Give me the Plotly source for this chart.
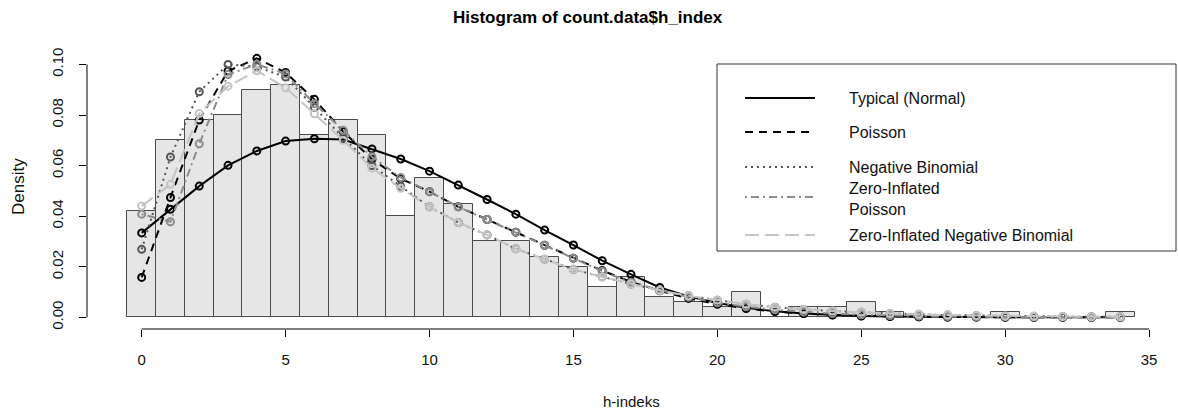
import plotly.graph_objects as go

# ---------------- data ----------------
h_index = list(range(0, 35))
hist_density = [0.042, 0.070, 0.078, 0.080, 0.090, 0.092, 0.072, 0.078, 0.072, 0.040,
                0.055, 0.045, 0.030, 0.030, 0.024, 0.020, 0.012, 0.016, 0.008, 0.006,
                0.004, 0.010, 0.000, 0.004, 0.004, 0.006, 0.002, 0.000, 0.000, 0.000,
                0.002, 0.000, 0.000, 0.000, 0.002]

fit_x = list(range(0, 35))
normal_fit = [0.0334, 0.0427, 0.0519, 0.0601, 0.0658, 0.0697, 0.0706, 0.0703, 0.0666, 0.0626,
              0.0578, 0.0523, 0.0466, 0.0408, 0.0345, 0.0286, 0.0224, 0.0170, 0.0118, 0.0083,
              0.0057, 0.0038, 0.0024, 0.0015, 0.0009, 0.0005, 0.0003, 0.0002, 0.0001, 0.0001,
              0.0000, 0.0000, 0.0000, 0.0000, 0.0000]
poisson_fit = [0.0158, 0.0474, 0.0780, 0.0974, 0.1024, 0.0968, 0.0862, 0.0735, 0.0625, 0.0548,
               0.0497, 0.0437, 0.0387, 0.0337, 0.0285, 0.0234, 0.0185, 0.0140, 0.0105, 0.0075,
               0.0052, 0.0035, 0.0023, 0.0015, 0.0010, 0.0006, 0.0004, 0.0002, 0.0001, 0.0001,
               0.0001, 0.0000, 0.0000, 0.0000, 0.0000]
negbin_fit = [0.0269, 0.0634, 0.0892, 0.1000, 0.0991, 0.0950, 0.0830, 0.0710, 0.0600, 0.0518,
              0.0437, 0.0375, 0.0326, 0.0271, 0.0230, 0.0190, 0.0160, 0.0132, 0.0106, 0.0085,
              0.0068, 0.0052, 0.0040, 0.0031, 0.0025, 0.0020, 0.0015, 0.0012, 0.0009, 0.0007,
              0.0005, 0.0004, 0.0003, 0.0002, 0.0002]
zip_fit = [0.0408, 0.0378, 0.0686, 0.0960, 0.1001, 0.0962, 0.0845, 0.0740, 0.0635, 0.0553,
           0.0497, 0.0437, 0.0387, 0.0337, 0.0285, 0.0234, 0.0182, 0.0138, 0.0108, 0.0080,
           0.0058, 0.0042, 0.0030, 0.0021, 0.0015, 0.0010, 0.0007, 0.0005, 0.0003, 0.0002,
           0.0002, 0.0001, 0.0001, 0.0001, 0.0001]
zinb_fit = [0.0440, 0.0526, 0.0806, 0.0914, 0.0975, 0.0908, 0.0805, 0.0700, 0.0590, 0.0510,
            0.0437, 0.0375, 0.0326, 0.0271, 0.0230, 0.0190, 0.0160, 0.0132, 0.0106, 0.0085,
            0.0068, 0.0052, 0.0040, 0.0031, 0.0025, 0.0020, 0.0015, 0.0012, 0.0009, 0.0007,
            0.0005, 0.0004, 0.0003, 0.0002, 0.0002]

x_ticks = [0, 5, 10, 15, 20, 25, 30, 35]
y_ticks = [0.00, 0.02, 0.04, 0.06, 0.08, 0.10]
y_tick_labels = ["0.00", "0.02", "0.04", "0.06", "0.08", "0.10"]

legend_labels = ["Typical (Normal)", "Poisson", "Negative Binomial",
                 "Zero-Inflated<br>Poisson", "Zero-Inflated Negative Binomial"]

# ---------------- styles ----------------
FONT = "Liberation Sans, Arial, sans-serif"
W, H = 1178, 414
L, R, T, B = 87, 3, 48, 85
PW, PH = W - L - R, H - T - B

series = [
    (normal_fit, "Normal", "#000000", "solid", 2),
    (poisson_fit, "Poisson", "#000000", "8px,6px", 2),
    (negbin_fit, "Negative Binomial", "#555555", "2px,4px", 2),
    (zip_fit, "Zero-Inflated Poisson", "#8c8c8c", "2px,4px,8px,4px", 2),
    (zinb_fit, "Zero-Inflated Negative Binomial", "#c4c4c4", "14px,6px", 2),
]

fig = go.Figure()
fig.add_trace(go.Bar(
    x=h_index, y=hist_density, width=1,
    marker=dict(color="#e6e6e6", line=dict(color="#4a4a4a", width=1)),
    showlegend=False, hoverinfo="skip"))

for ys, name, col, dash, lw in series:
    fig.add_trace(go.Scatter(
        x=fit_x, y=ys, mode="lines+markers", name=name,
        line=dict(color=col, dash=dash, width=lw),
        marker=dict(symbol="circle-open", size=7, color=col, line=dict(width=2, color=col)),
        showlegend=False))

def px_x(p):
    return (p - L) / PW

def px_y(p):
    return (H - B - p) / PH

shapes = []
# detached axis lines (R style)
shapes.append(dict(type="line", xref="x", yref="paper", x0=x_ticks[0], x1=x_ticks[-1], y0=0, y1=0,
                   line=dict(color="#000000", width=1)))
shapes.append(dict(type="line", xref="paper", yref="y", x0=0, x1=0, y0=y_ticks[0], y1=y_ticks[-1],
                   line=dict(color="#000000", width=1)))
# legend box
shapes.append(dict(type="rect", xref="paper", yref="paper", x0=px_x(717), x1=px_x(1176),
                   y0=px_y(251), y1=px_y(64), line=dict(color="#333333", width=1), fillcolor="white"))

annotations = []
rows_y = [98, 132, 167, 197, 235]
text_y = [98, 132, 167, 199, 235]
for (ys, name, col, dash, lw), ly, ty, lab in zip(series, rows_y, text_y, legend_labels):
    shapes.append(dict(type="line", xref="paper", yref="paper", x0=px_x(745), x1=px_x(815),
                       y0=px_y(ly), y1=px_y(ly), line=dict(color=col, dash=dash, width=lw)))
    annotations.append(dict(xref="paper", yref="paper", x=px_x(847), y=px_y(ty), text=lab,
                            showarrow=False, xanchor="left", yanchor="middle", align="left",
                            font=dict(family=FONT, size=16, color="#111111")))

annotations.append(dict(xref="paper", yref="paper", x=px_x(588), y=px_y(17),
                        text="<b>Histogram of count.data$h_index</b>", showarrow=False,
                        xanchor="center", yanchor="middle",
                        font=dict(family=FONT, size=17, color="#000000")))
annotations.append(dict(xref="paper", yref="paper", x=px_x(631), y=px_y(401),
                        text="h-indeks", showarrow=False, xanchor="center", yanchor="middle",
                        font=dict(family=FONT, size=15, color="#111111")))
annotations.append(dict(xref="paper", yref="paper", x=px_x(18), y=px_y(187),
                        text="Density", showarrow=False, xanchor="center", yanchor="middle",
                        textangle=-90, font=dict(family=FONT, size=17, color="#111111")))

fig.update_layout(
    width=W, height=H,
    margin=dict(l=L, r=R, t=T, b=B, pad=0),
    paper_bgcolor="white", plot_bgcolor="white",
    bargap=0, showlegend=False,
    shapes=shapes, annotations=annotations,
    font=dict(family=FONT, size=14, color="#111111"),
    xaxis=dict(range=[-1.9, 35.9], tickvals=x_ticks, ticks="outside", ticklen=7,
               tickcolor="#000000", showgrid=False, zeroline=False, showline=False,
               tickfont=dict(family=FONT, size=15), ticklabelstandoff=10),
    yaxis=dict(range=[-0.0046, 0.1065], tickvals=y_ticks, ticktext=y_tick_labels,
               ticks="outside", ticklen=7, tickcolor="#000000", showgrid=False,
               zeroline=False, showline=False, tickangle=-90,
               tickfont=dict(family=FONT, size=15), ticklabelstandoff=10),
)

fig.write_html("out.html")
